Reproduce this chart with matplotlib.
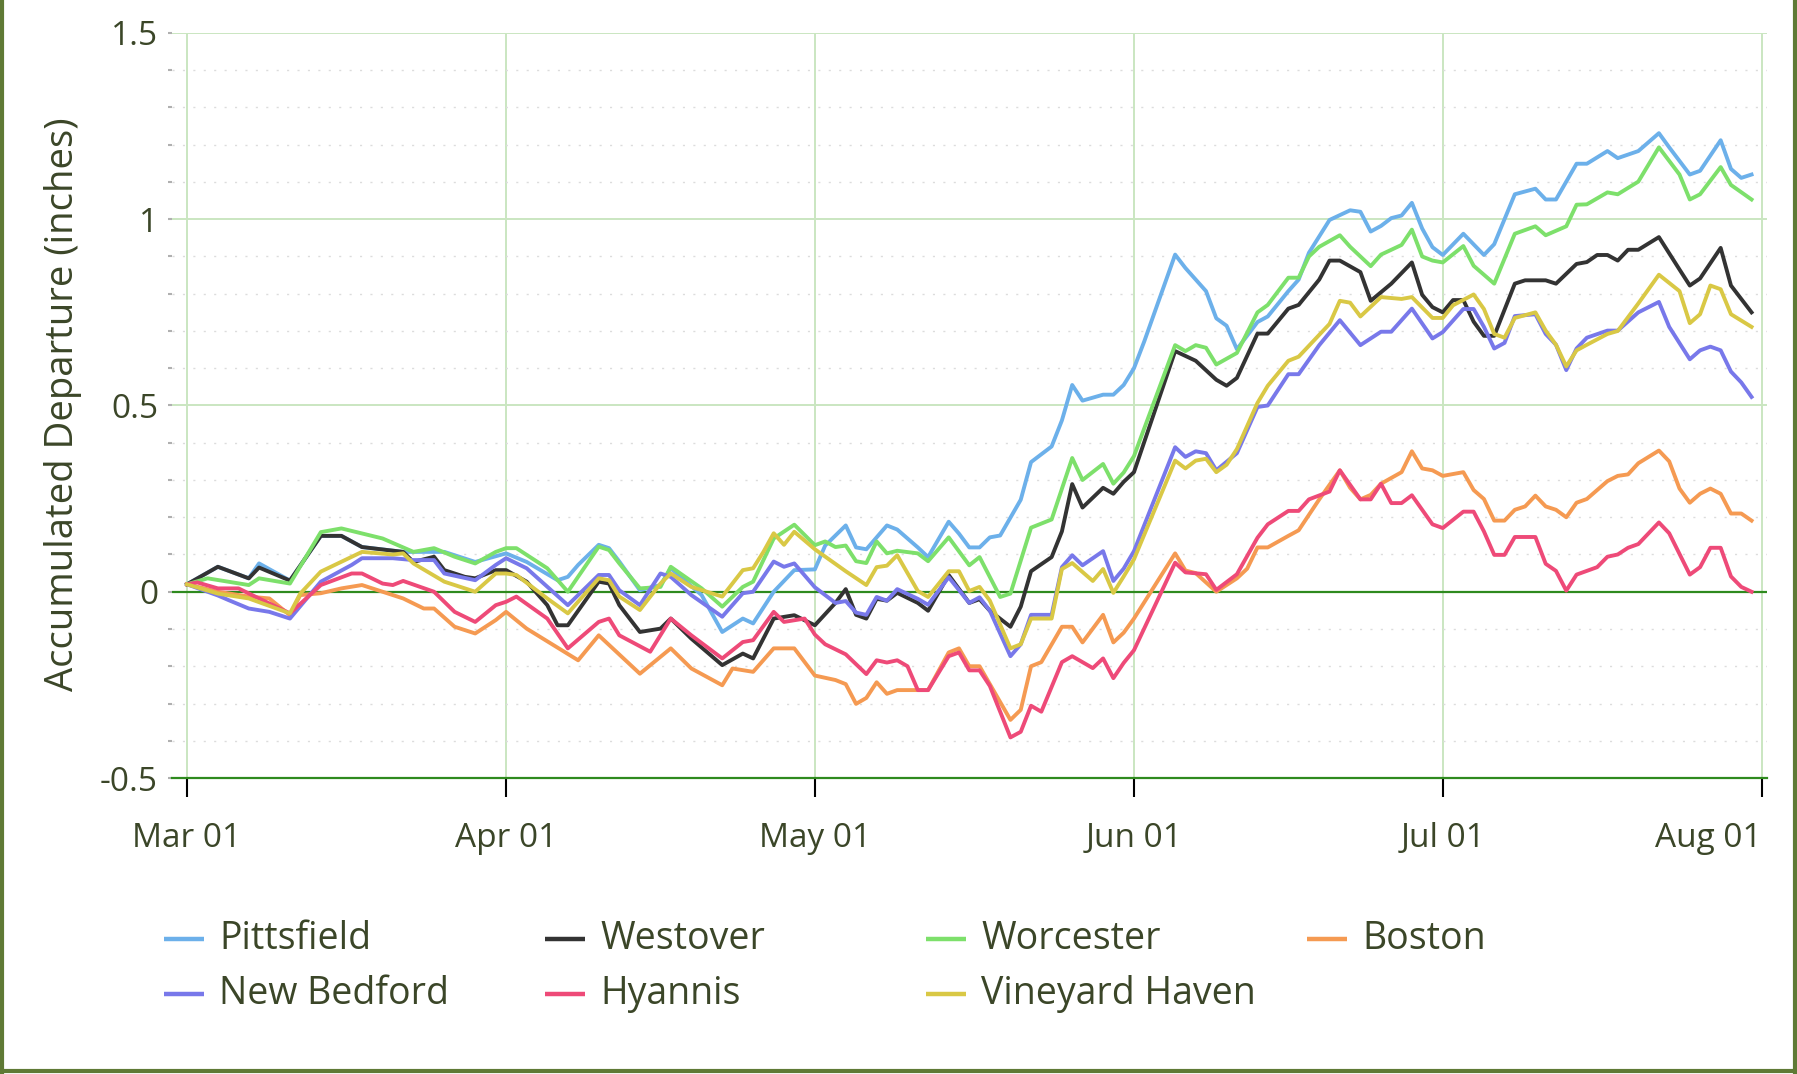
import numpy as np
import matplotlib as mpl
mpl.use('Agg')
import matplotlib.pyplot as plt
import matplotlib.dates as mdates
from matplotlib.lines import Line2D
from matplotlib.ticker import MultipleLocator

plt.rcParams['font.family'] = ['Open Sans', 'DejaVu Sans']

### data: (day since Mar 01, accumulated departure in inches)
pittsfield = [(0,0.02),(3,0.067),(6,0.036),(7,0.076),(10,0.03),(13,0.15),(15,0.15),(17,0.12),(21,0.107),(25,0.107),
    (28,0.08),(31,0.103),(33,0.08),(36,0.031),(37,0.04),(38,0.072),(40,0.126),(41,0.117),(42,0.081),(44,0.004),
    (46,0.018),(47,0.063),(50,-0.009),(52,-0.108),(54,-0.072),(55,-0.085),(57,0.0),(59,0.058),(61,0.06),(62,0.124),
    (64,0.178),(65,0.119),(66,0.114),(68,0.178),(69,0.167),(71,0.119),(72,0.093),(74,0.188),(75,0.156),(76,0.119),
    (77,0.119),(78,0.146),(79,0.151),(81,0.247),(82,0.348),(84,0.39),(85,0.46),(86,0.555),(87,0.513),(89,0.529),
    (90,0.529),(91,0.555),(92,0.6),(93,0.672),(96,0.905),(97,0.869),(99,0.807),(100,0.734),(101,0.714),(102,0.651),
    (104,0.724),(105,0.739),(107,0.807),(108,0.838),(109,0.91),(111,0.998),(113,1.024),(114,1.02),(115,0.967),
    (116,0.982),(117,1.003),(118,1.01),(119,1.044),(120,0.975),(121,0.925),(122,0.904),(124,0.961),(126,0.904),
    (127,0.933),(129,1.067),(131,1.082),(132,1.053),(133,1.053),(135,1.149),(136,1.149),(138,1.183),(139,1.164),
    (141,1.183),(143,1.231),(144,1.193),(146,1.12),(147,1.13),(149,1.212),(150,1.135),(151,1.111),(152,1.12)]

westover = [(0,0.02),(3,0.067),(6,0.036),(7,0.065),(10,0.03),(13,0.15),(15,0.15),(17,0.12),(21,0.107),(22,0.08),
    (24,0.094),(25,0.058),(27,0.04),(28,0.036),(30,0.058),(31,0.058),(33,0.027),(35,-0.036),(36,-0.09),(37,-0.09),
    (40,0.027),(41,0.022),(42,-0.036),(44,-0.108),(46,-0.099),(47,-0.072),(49,-0.126),(52,-0.197),(54,-0.166),
    (55,-0.179),(57,-0.072),(59,-0.063),(61,-0.09),(63,-0.03),(64,0.007),(65,-0.062),(66,-0.072),(67,-0.019),
    (68,-0.024),(69,-0.003),(71,-0.03),(72,-0.051),(74,0.045),(76,-0.03),(77,-0.02),(78,-0.051),(80,-0.094),
    (81,-0.04),(82,0.055),(84,0.093),(85,0.162),(86,0.289),(87,0.226),(89,0.279),(90,0.263),(91,0.295),(92,0.321),
    (96,0.646),(98,0.62),(100,0.569),(101,0.553),(102,0.574),(104,0.693),(105,0.693),(107,0.76),(108,0.77),
    (110,0.838),(111,0.889),(112,0.889),(114,0.858),(115,0.781),(117,0.827),(119,0.884),(120,0.797),(121,0.764),
    (122,0.75),(123,0.783),(124,0.783),(125,0.725),(126,0.687),(127,0.687),(129,0.827),(130,0.836),(132,0.836),
    (133,0.827),(135,0.88),(136,0.885),(137,0.904),(138,0.904),(139,0.889),(140,0.918),(141,0.918),(143,0.952),
    (145,0.865),(146,0.822),(147,0.841),(149,0.923),(150,0.822),(152,0.75)]

worcester = [(0,0.02),(2,0.036),(6,0.018),(7,0.036),(10,0.022),(13,0.16),(15,0.17),(19,0.143),(22,0.107),(24,0.117),
    (26,0.094),(28,0.076),(30,0.107),(31,0.117),(32,0.117),(35,0.063),(37,0.0),(40,0.121),(41,0.112),(42,0.076),
    (44,0.009),(46,0.013),(47,0.067),(50,0.009),(52,-0.04),(54,0.013),(55,0.027),(57,0.143),(59,0.18),(61,0.125),
    (62,0.135),(63,0.12),(64,0.124),(65,0.082),(66,0.077),(67,0.135),(68,0.103),(69,0.11),(71,0.103),(72,0.082),
    (74,0.146),(76,0.071),(77,0.093),(79,-0.014),(80,-0.005),(82,0.172),(84,0.194),(86,0.359),(87,0.3),(89,0.343),
    (90,0.29),(91,0.32),(92,0.364),(96,0.662),(97,0.646),(98,0.662),(99,0.655),(100,0.61),(102,0.641),(104,0.75),
    (105,0.77),(107,0.843),(108,0.843),(109,0.9),(110,0.926),(112,0.957),(113,0.926),(115,0.874),(116,0.905),
    (118,0.931),(119,0.972),(120,0.9),(121,0.889),(122,0.884),(124,0.928),(125,0.875),(127,0.827),(129,0.961),
    (131,0.981),(132,0.957),(134,0.981),(135,1.039),(136,1.04),(138,1.072),(139,1.067),(141,1.101),(143,1.193),
    (145,1.12),(146,1.053),(147,1.067),(149,1.14),(150,1.092),(152,1.053)]

boston = [(0,0.02),(3,0.0),(6,-0.013),(8,-0.018),(10,-0.063),(11,-0.009),(13,-0.004),(15,0.009),(17,0.018),
    (21,-0.018),(23,-0.045),(24,-0.045),(26,-0.094),(28,-0.112),(30,-0.076),(31,-0.054),(33,-0.099),(38,-0.184),
    (40,-0.117),(44,-0.22),(47,-0.152),(49,-0.206),(52,-0.251),(53,-0.206),(55,-0.215),(57,-0.152),(59,-0.152),
    (61,-0.225),(63,-0.237),(64,-0.248),(65,-0.301),(66,-0.285),(67,-0.243),(68,-0.274),(69,-0.264),(71,-0.264),
    (72,-0.264),(74,-0.163),(75,-0.152),(76,-0.2),(77,-0.2),(78,-0.248),(80,-0.344),(81,-0.317),(82,-0.2),
    (83,-0.189),(85,-0.094),(86,-0.094),(87,-0.136),(89,-0.062),(90,-0.136),(91,-0.11),(92,-0.072),(96,0.103),
    (97,0.057),(98,0.05),(100,0.0),(102,0.036),(103,0.062),(104,0.119),(105,0.119),(107,0.15),(108,0.165),
    (110,0.248),(112,0.326),(113,0.279),(114,0.248),(115,0.26),(116,0.29),(118,0.321),(119,0.377),(120,0.331),
    (121,0.326),(122,0.311),(124,0.321),(125,0.273),(126,0.249),(127,0.191),(128,0.191),(129,0.22),(130,0.229),
    (131,0.258),(132,0.229),(133,0.22),(134,0.2),(135,0.239),(136,0.249),(138,0.297),(139,0.311),(140,0.315),
    (141,0.345),(143,0.379),(144,0.35),(145,0.277),(146,0.239),(147,0.263),(148,0.277),(149,0.263),(150,0.21),
    (151,0.21),(152,0.191)]

new_bedford = [(0,0.02),(3,-0.01),(4,-0.022),(6,-0.045),(8,-0.054),(10,-0.072),(13,0.027),(16,0.072),(17,0.09),
    (20,0.09),(22,0.085),(24,0.085),(25,0.049),(28,0.031),(30,0.072),(31,0.09),(33,0.063),(37,-0.036),(40,0.045),
    (41,0.045),(42,0.004),(44,-0.036),(46,0.049),(47,0.04),(49,-0.009),(52,-0.067),(54,-0.004),(55,0.0),(57,0.081),
    (58,0.067),(59,0.076),(61,0.012),(63,-0.03),(64,-0.025),(65,-0.056),(66,-0.062),(67,-0.014),(68,-0.024),
    (69,0.007),(71,-0.019),(72,-0.035),(74,0.039),(76,-0.03),(77,-0.015),(78,-0.051),(80,-0.173),(81,-0.141),
    (82,-0.062),(84,-0.062),(85,0.066),(86,0.098),(87,0.071),(89,0.109),(90,0.029),(91,0.062),(92,0.109),
    (96,0.388),(97,0.362),(98,0.377),(99,0.372),(100,0.326),(102,0.372),(104,0.496),(105,0.5),(107,0.584),
    (108,0.584),(110,0.662),(112,0.729),(114,0.662),(116,0.698),(117,0.698),(119,0.76),(121,0.68),(122,0.697),
    (124,0.759),(125,0.759),(126,0.711),(127,0.653),(128,0.668),(129,0.74),(131,0.745),(132,0.692),(133,0.663),
    (134,0.595),(135,0.653),(136,0.682),(138,0.701),(139,0.701),(141,0.75),(143,0.778),(144,0.711),(146,0.624),
    (147,0.648),(148,0.658),(149,0.648),(150,0.591),(151,0.562),(152,0.523)]

hyannis = [(0,0.02),(1,0.025),(3,0.009),(5,0.009),(7,-0.018),(10,-0.058),(13,0.018),(16,0.049),(17,0.049),
    (19,0.022),(20,0.018),(21,0.029),(24,0.0),(26,-0.054),(28,-0.081),(30,-0.036),(31,-0.027),(32,-0.013),
    (35,-0.072),(37,-0.152),(40,-0.081),(41,-0.072),(42,-0.117),(45,-0.161),(47,-0.072),(49,-0.117),(52,-0.179),
    (54,-0.135),(55,-0.13),(57,-0.054),(58,-0.081),(60,-0.072),(61,-0.115),(62,-0.141),(64,-0.168),(66,-0.221),
    (67,-0.184),(68,-0.19),(69,-0.184),(70,-0.2),(71,-0.264),(72,-0.264),(74,-0.173),(75,-0.163),(76,-0.211),
    (77,-0.211),(78,-0.253),(80,-0.391),(81,-0.376),(82,-0.306),(83,-0.322),(85,-0.189),(86,-0.173),(88,-0.205),
    (89,-0.179),(90,-0.232),(91,-0.191),(92,-0.157),(96,0.078),(97,0.052),(99,0.047),(100,0.005),(102,0.047),
    (104,0.145),(105,0.181),(107,0.217),(108,0.217),(109,0.248),(111,0.269),(112,0.326),(114,0.248),(115,0.248),
    (116,0.29),(117,0.238),(118,0.238),(119,0.259),(121,0.181),(122,0.171),(124,0.215),(125,0.215),(126,0.162),
    (127,0.099),(128,0.099),(129,0.147),(131,0.147),(132,0.075),(133,0.056),(134,0.003),(135,0.046),(137,0.066),
    (138,0.094),(139,0.1),(140,0.118),(141,0.128),(143,0.186),(144,0.157),(146,0.046),(147,0.066),(148,0.118),
    (149,0.118),(150,0.041),(151,0.013),(152,0.0)]

vineyard_haven = [(0,0.02),(3,-0.005),(6,-0.018),(10,-0.058),(11,-0.005),(13,0.054),(17,0.107),(20,0.1),(21,0.103),
    (22,0.076),(25,0.027),(28,0.0),(30,0.049),(31,0.049),(32,0.045),(35,-0.018),(37,-0.058),(40,0.036),(41,0.031),
    (42,-0.013),(44,-0.049),(46,0.022),(47,0.049),(49,0.013),(52,-0.013),(54,0.058),(55,0.063),(56,0.107),
    (57,0.157),(58,0.126),(59,0.161),(61,0.114),(64,0.055),(66,0.018),(67,0.066),(68,0.07),(69,0.098),(71,0.002),
    (72,-0.014),(74,0.055),(75,0.055),(76,0.002),(77,0.013),(78,-0.024),(80,-0.152),(81,-0.141),(82,-0.072),
    (84,-0.072),(85,0.061),(86,0.077),(88,0.029),(89,0.061),(90,-0.003),(91,0.041),(92,0.087),(96,0.352),
    (97,0.331),(98,0.352),(99,0.357),(100,0.321),(101,0.341),(102,0.383),(104,0.507),(105,0.553),(107,0.62),
    (108,0.631),(111,0.719),(112,0.781),(113,0.776),(114,0.739),(116,0.791),(118,0.786),(119,0.791),(121,0.735),
    (122,0.735),(123,0.769),(125,0.798),(126,0.759),(127,0.692),(128,0.682),(129,0.735),(131,0.75),(132,0.701),
    (133,0.663),(134,0.605),(135,0.648),(136,0.663),(138,0.692),(139,0.7),(141,0.774),(143,0.851),(145,0.807),
    (146,0.721),(147,0.745),(148,0.822),(149,0.812),(150,0.745),(152,0.711)]

stations = ['Pittsfield', 'Westover', 'Worcester', 'Boston', 'New Bedford', 'Hyannis', 'Vineyard Haven']
series = [pittsfield, westover, worcester, boston, new_bedford, hyannis, vineyard_haven]
colors = ['#6cb0ea', '#333333', '#7de06b', '#f59a52', '#7878ea', '#ee4a78', '#d9c845']

start = np.datetime64('2023-03-01')
text_col = '#3b4628'

#### create figure
fig = plt.figure(figsize=(17.97, 10.74), dpi=100)
ax = fig.add_axes([0.0957, 0.2756, 0.8876, 0.6937])

for name, s, c in zip(stations, series, colors):
    d = np.array([p[0] for p in s])
    v = np.array([p[1] for p in s])
    dates = start + d.astype('timedelta64[D]')
    ax.plot(dates, v, color=c, lw=2.8, label=name, zorder=3, solid_joinstyle='round')

ax.axhline(0, color='#2e8a1e', lw=1.6, zorder=2)

x0 = mdates.date2num(start)
ax.set_xlim(x0 - 1.46, x0 + 153.5)
ax.set_ylim(-0.5, 1.5)

ax.xaxis.set_major_locator(mdates.MonthLocator())
ax.xaxis.set_major_formatter(mdates.DateFormatter('%b %d'))
ax.yaxis.set_major_locator(MultipleLocator(0.5))
ax.yaxis.set_minor_locator(MultipleLocator(0.1))
ax.yaxis.set_major_formatter(mpl.ticker.FuncFormatter(lambda v, p: ('%g' % v)))

ax.tick_params(axis='x', direction='out', length=14, width=1.5, color='black',
    pad=18, labelsize=24, labelcolor=text_col)
ax.tick_params(axis='y', which='both', direction='out', length=3, width=1.5, color='#b0b0b0',
    pad=7, labelsize=24, labelcolor=text_col)

ax.grid(axis='x', which='major', color='#cae6c1', lw=1.4)
ax.grid(axis='y', which='major', color='#cae6c1', lw=1.4)
ax.grid(axis='y', which='minor', color='#dcdcdc', lw=1.0, linestyle=(0, (1.5, 6)))
ax.set_axisbelow(True)

for sp in ['top', 'right', 'left']:
    ax.spines[sp].set_visible(False)
ax.spines['bottom'].set_color('#2e8a1e')
ax.spines['bottom'].set_linewidth(1.6)

# last month label sits left of its tick so it stays inside the frame
fig.canvas.draw()
xlabels = ax.get_xticklabels()
xlabels[-1].set_horizontalalignment('right')
xlabels[-1].set_x(xlabels[-1].get_position()[0])
ax.xaxis.get_major_ticks()[-1].label1.set_ha('right')

fig.text(63 / 1797, 1 - 404 / 1074, 'Accumulated Departure (inches)', rotation=90,
    ha='center', va='center', fontsize=27.5, color=text_col)

#### legend, 4 columns x 2 rows, filled column-wise
col_x = [164, 545, 926, 1307]
row_y = [939, 994]
order = [0, 4, 1, 5, 2, 6, 3]
for k, i in enumerate(order):
    cx = col_x[k // 2]
    ry = row_y[k % 2]
    yf = 1 - ry / 1074
    fig.add_artist(Line2D([cx / 1797, (cx + 40) / 1797], [yf, yf], color=colors[i], lw=3.2,
        solid_capstyle='butt', transform=fig.transFigure))
    fig.text((cx + 55) / 1797, yf, stations[i], ha='left', va='center', fontsize=27, color=text_col)

#### figure border (left, bottom, right)
bc = '#5f7a35'
fig.add_artist(Line2D([0.0009, 0.0009], [0, 1], color=bc, lw=3, transform=fig.transFigure))
fig.add_artist(Line2D([0.9989, 0.9989], [0, 1], color=bc, lw=3, transform=fig.transFigure))
fig.add_artist(Line2D([0, 1], [0.0025, 0.0025], color=bc, lw=3, transform=fig.transFigure))

fig.savefig('out.png', dpi=100)
plt.close()
